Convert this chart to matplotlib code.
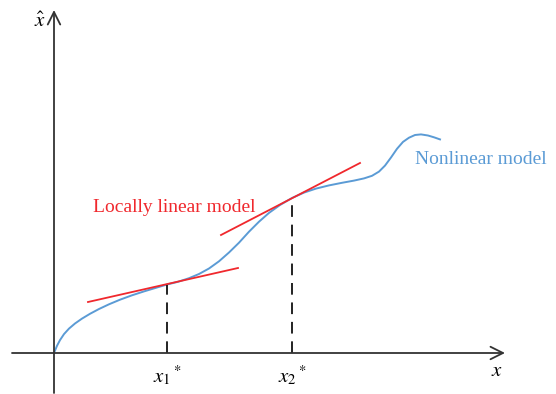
import numpy as np
import matplotlib
matplotlib.use("Agg")
import matplotlib.pyplot as plt

plt.rcParams['mathtext.fontset'] = 'stix'
plt.rcParams['font.family'] = ['Liberation Serif', 'DejaVu Serif']

# nonlinear model curve
curve_x = [0.0, 0.03, 0.06, 0.10, 0.15, 0.21, 0.28, 0.36, 0.45, 0.55, 0.66, 0.78,
           0.90, 1.02, 1.13, 1.24, 1.35, 1.45, 1.55, 1.65, 1.75, 1.85, 1.95, 2.05,
           2.15, 2.26, 2.38, 2.50, 2.62, 2.75, 2.88, 3.00, 3.10, 3.18, 3.25, 3.31,
           3.37, 3.43, 3.49, 3.55, 3.61, 3.67, 3.74, 3.80, 3.86]
curve_y = [0.0, 0.072, 0.129, 0.189, 0.244, 0.295, 0.344, 0.392, 0.440, 0.487, 0.533, 0.577,
           0.616, 0.652, 0.685, 0.712, 0.748, 0.790, 0.845, 0.917, 1.005, 1.103, 1.213, 1.313,
           1.401, 1.480, 1.550, 1.604, 1.644, 1.676, 1.702, 1.724, 1.746, 1.772, 1.814, 1.874,
           1.955, 2.042, 2.111, 2.153, 2.180, 2.186, 2.175, 2.157, 2.136]

# operating points and tangent segments
op_x = [1.13, 2.38]
op_y = [0.685, 1.55]
op_labels = [r'$x_1{}^*$', r'$x_2{}^*$']
tan_x = [[0.34, 1.84], [1.67, 3.06]]
tan_y = [[0.51, 0.85], [1.18, 1.90]]

blue = '#5b9bd5'
red = '#f0282d'
axis_c = '#333333'

fig = plt.figure(figsize=(5.56, 3.94), dpi=100)
ax = fig.add_axes([0, 0, 1, 1])
ax.set_xlim(-0.54, 5.02)
ax.set_ylim(-0.41, 3.53)
ax.axis('off')

# axes with open arrow heads
arrow = dict(arrowstyle='->,head_length=0.9,head_width=0.45', color=axis_c, lw=1.3,
             shrinkA=0, shrinkB=0)
ax.annotate('', xy=(4.51, 0), xytext=(-0.42, 0), arrowprops=arrow)
ax.annotate('', xy=(0, 3.43), xytext=(0, -0.40), arrowprops=arrow)

ax.plot(curve_x, curve_y, color=blue, lw=1.4, solid_joinstyle='round')

for i in range(2):
    ax.plot(tan_x[i], tan_y[i], color=red, lw=1.3)
    ax.plot([op_x[i], op_x[i]], [0, op_y[i]], color='#222222', lw=1.4,
            ls=(0, (6, 4)))
    ax.text(op_x[i], -0.23, op_labels[i], fontsize=15, ha='center', va='center')

ax.text(-0.14, 3.31, r'$\hat{x}$', fontsize=15, ha='center', va='center')
ax.text(4.43, -0.19, r'$x$', fontsize=15, ha='center', va='center')
ax.text(0.39, 1.46, 'Locally linear model', color=red, fontsize=14,
        ha='left', va='center')
ax.text(3.61, 1.93, 'Nonlinear model', color=blue, fontsize=14,
        ha='left', va='center')

fig.savefig('out.png', dpi=100)
